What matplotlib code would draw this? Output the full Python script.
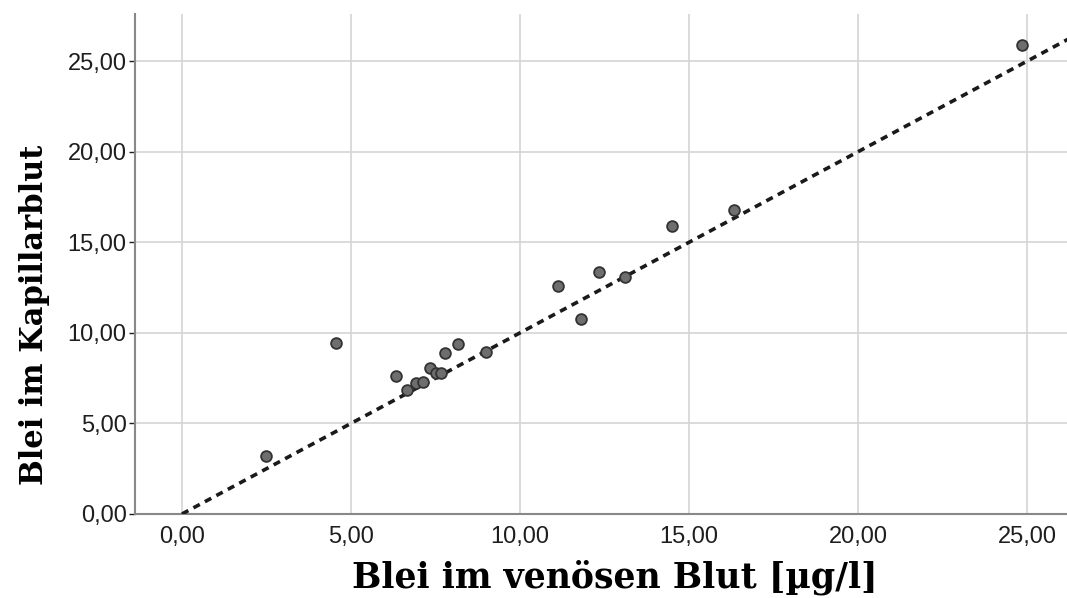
import numpy as np
import matplotlib
matplotlib.use('Agg')
import matplotlib.pyplot as plt
from matplotlib.ticker import FuncFormatter

# ── data ─────────────────────────────────────────────────────────────────────
venous = [2.49, 4.56, 6.33, 6.66, 6.92, 7.13, 7.34, 7.51, 7.66, 7.78,
          8.17, 9.00, 11.12, 11.80, 12.34, 13.10, 14.50, 16.33, 24.85]
capillary = [3.20, 9.44, 7.62, 6.84, 7.23, 7.28, 8.06, 7.78, 7.78, 8.89,
             9.38, 8.94, 12.58, 10.76, 13.36, 13.08, 15.89, 16.78, 25.88]
ticks = [0, 5, 10, 15, 20, 25]
ref_line = [0, 27]          # identity line y = x

fig = plt.figure(figsize=(10.67, 5.98), dpi=100)
ax = fig.add_axes([0.1265, 0.1405, 0.8735, 0.836])

ax.grid(True, color='#d4d4d4', linewidth=1.2)
ax.set_axisbelow(True)

ax.plot(ref_line, ref_line, color='#1a1a1a', linestyle=(0, (2, 1.6)),
        linewidth=2.6, zorder=3)
ax.scatter(venous, capillary, s=60, color='#6e6e6e', edgecolor='#333333',
           linewidth=1.3, zorder=4)

ax.set_xlim(-1.39, 26.18)
ax.set_ylim(0, 27.6)
ax.set_xticks(ticks)
ax.set_yticks(ticks)
fmt = FuncFormatter(lambda v, p: f'{v:.2f}'.replace('.', ','))
ax.xaxis.set_major_formatter(fmt)
ax.yaxis.set_major_formatter(fmt)
ax.tick_params(axis='both', labelsize=17, colors='#1e1e1e', length=4,
               width=1, pad=2)
ax.tick_params(axis='x', length=0, pad=9)
for lab in ax.get_xticklabels() + ax.get_yticklabels():
    lab.set_fontfamily('Liberation Sans')

for side in ['top', 'right']:
    ax.spines[side].set_visible(False)
for side in ['left', 'bottom']:
    ax.spines[side].set_color('#888888')
    ax.spines[side].set_linewidth(1.5)

ax.set_xlabel('Blei im venösen Blut [µg/l]', fontsize=25, fontweight='bold',
              family='DejaVu Serif', labelpad=8)
ax.xaxis.set_label_coords(0.515, -0.092)
ax.set_ylabel('Blei im Kapillarblut', fontsize=22, fontweight='bold',
              family='DejaVu Serif')
ax.yaxis.set_label_coords(-0.091, 0.398)

plt.savefig('out.png', dpi=100)
plt.close()
